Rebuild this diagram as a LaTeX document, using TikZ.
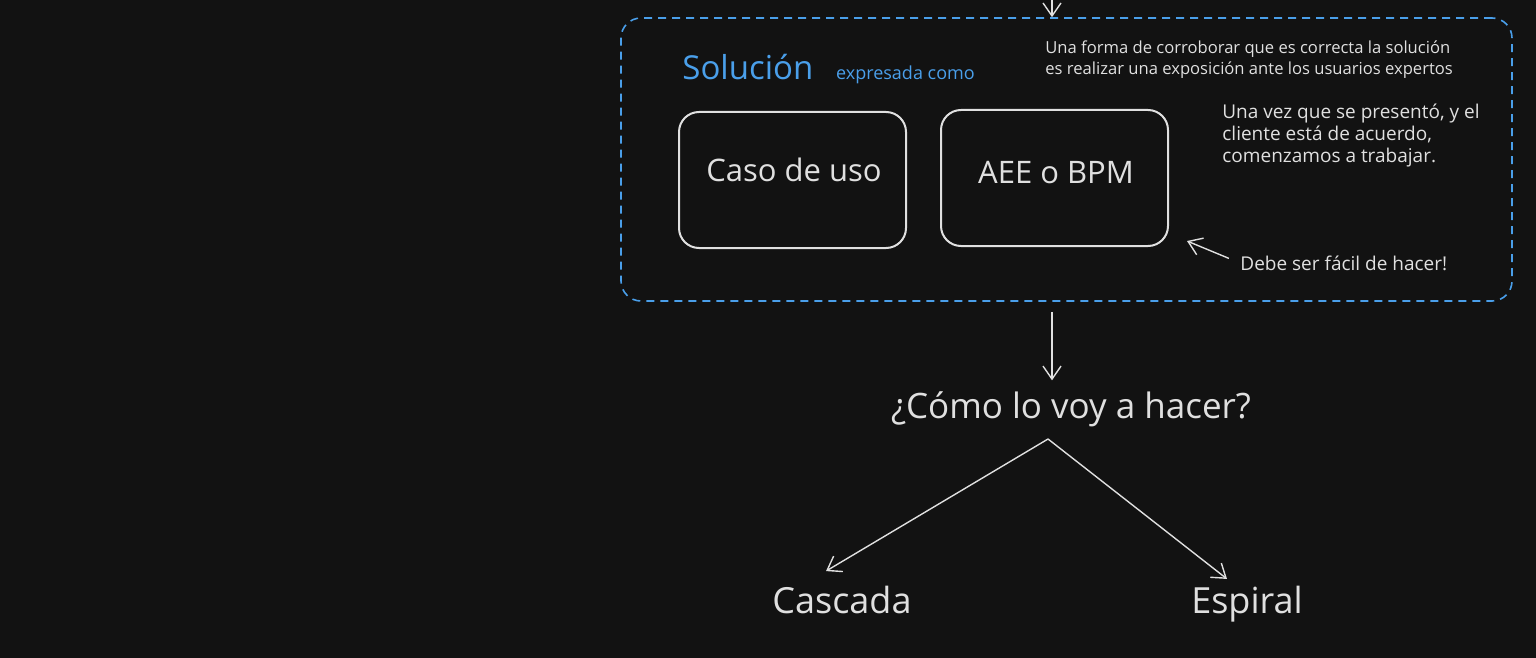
\documentclass[tikz,border=0pt]{standalone}
\usepackage{fontspec}
\setmainfont{Open Sans}
\usetikzlibrary{positioning,arrows.meta}
\definecolor{bg}{HTML}{121212}
\definecolor{ink}{HTML}{E0E0E0}
\definecolor{sky}{HTML}{4A9FEA}

\begin{document}
\begin{tikzpicture}[x=0.5pt,y=-0.5pt,
  every node/.style={text=ink},
  card/.style={draw=ink,line width=1pt,rounded corners=10pt,minimum width=113.5pt,minimum height=68pt},
  frame/.style={draw=sky,line width=0.8pt,dash pattern=on 4pt off 3pt,rounded corners=10pt,minimum width=445.5pt,minimum height=141.5pt},
  note/.style={align=left,font=\fontsize{9.5}{11}\selectfont,inner sep=0pt},
  big/.style={font=\fontsize{15.5}{18}\selectfont},
  link/.style={draw=ink,line width=0.7pt,-{Straight Barb[length=6.5pt,width=9pt]}}]
\fill[bg] (0,0) rectangle (1536,658);
\useasboundingbox (0,0) rectangle (1536,658);
\node[frame] (sol) at (1066.5,159.5) {};
\node[card] (c1) at (792.5,180) {};
\node[card] (c2) at (1054.5,178) {};
\node[big] (t1) at (794,170) {Caso de uso};
\node[big] (t2) at (1056,173) {AEE o BPM};
\node[font=\fontsize{16.5}{19}\selectfont,text=sky,anchor=base west,inner sep=0pt] (s1) at (682,80) {Solución};
\node[font=\fontsize{9}{11}\selectfont,text=sky,inner sep=0pt] (s2) [base right=11pt of s1] {expresada como};
\node[note,font=\fontsize{8.3}{10.5}\selectfont,anchor=north west] (n1) at (1045,40) {Una forma de corroborar que es correcta la solución\\es realizar una exposición ante los usuarios expertos};
\node[note,anchor=north west] (n2) at (1222,104) {Una vez que se presentó, y el\\cliente está de acuerdo,\\comenzamos a trabajar.};
\node[note,anchor=west] (n3) at (1240,263) {Debe ser fácil de hacer!};
\node[font=\fontsize{17.5}{20}\selectfont] (q) at (1071,409) {¿Cómo lo voy a hacer?};
\node[font=\fontsize{18}{21}\selectfont] (w1) at (842,600) {Cascada};
\node[font=\fontsize{18}{21}\selectfont] (w2) at (1247,604) {Espiral};
% connectors
\coordinate (top) at (1052,0);
\coordinate (p1) at (1187,241);
\coordinate (fork) at (1048,439);
\draw[link] (top) -- (top |- sol.north);
\draw[link,shorten <=5pt,shorten >=2pt] (top |- sol.south) -- (top |- q.north);
\draw[link,shorten <=6pt] (n3.west) -- (p1);
\draw[link] (fork) -- ([xshift=-8pt,yshift=4pt]w1.north);
\draw[link] (fork) -- ([xshift=-10pt]w2.north);
\end{tikzpicture}
\end{document}
